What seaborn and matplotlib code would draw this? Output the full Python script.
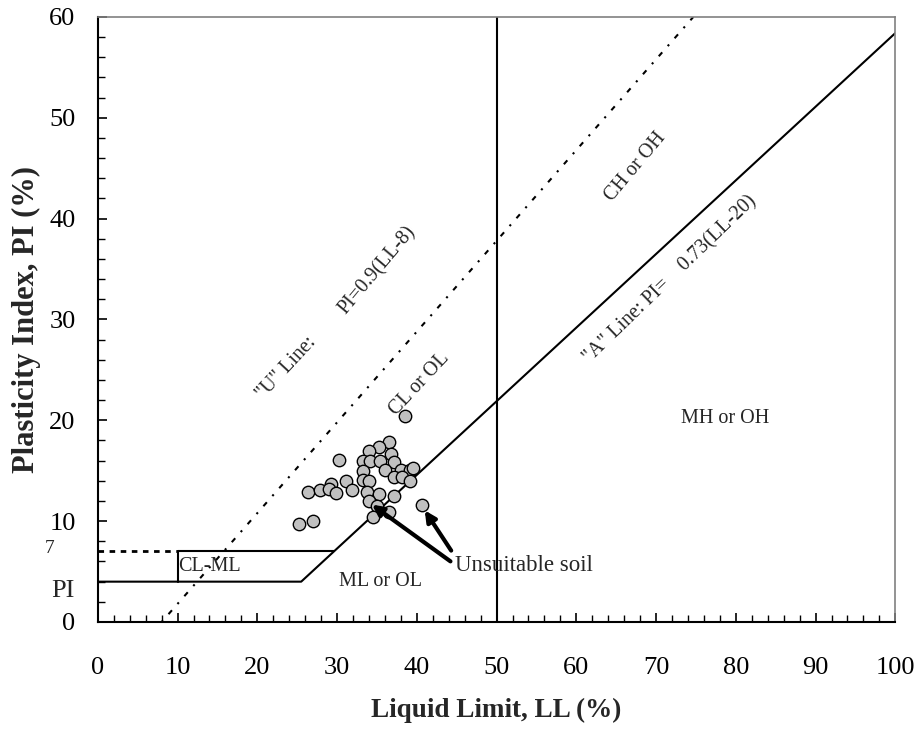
import numpy as np
import pandas as pd
import matplotlib
matplotlib.use("Agg")
import matplotlib.pyplot as plt
from matplotlib.ticker import MultipleLocator
import seaborn as sns

# Soil samples (liquid limit, plasticity index)
liquid_limit = [38.5, 36.5, 35.2, 34.0, 36.8, 30.2, 33.2, 34.1, 35.4, 37.1,
                36.0, 33.2, 38.0, 39.1, 39.5, 37.1, 38.1, 39.1, 33.2, 34.0,
                29.3, 31.1, 26.3, 27.9, 29.0, 29.9, 31.9, 33.8, 35.2, 37.2,
                34.0, 35.0, 40.6, 36.5, 34.5, 25.2, 27.0]
plasticity_index = [20.4, 17.8, 17.4, 17.0, 16.7, 16.1, 16.0, 16.0, 16.0, 15.9,
                    15.1, 14.95, 15.1, 15.1, 15.3, 14.4, 14.35, 14.0, 14.1, 14.0,
                    13.7, 14.0, 12.9, 13.1, 13.2, 12.8, 13.1, 12.9, 12.7, 12.5,
                    12.0, 11.5, 11.6, 10.9, 10.4, 9.7, 10.0]

# Classification lines
u_line_ll = [8, 74.67]
u_line_pi = [0, 60]
a_line_ll = [0, 25.5, 100]
a_line_pi = [4, 4, 58.4]
clml_ll = [10, 10, 29.6]
clml_pi = [4, 7, 7]
pi7_ll = [0, 10]
pi7_pi = [7, 7]
ll50_ll = [50, 50]
ll50_pi = [0, 60]

# Unsuitable soil arrows: (tail LL, tail PI) -> (head LL, head PI)
arrow_tails = [(44.5, 5.85), (44.5, 6.85)]
arrow_heads = [(34.1, 11.8), (40.8, 11.3)]

df = pd.DataFrame({"LL": liquid_limit, "PI": plasticity_index})

sns.set_style("ticks")
plt.rcParams["font.family"] = ["Liberation Serif", "DejaVu Serif"]

fig = plt.figure(figsize=(9.23, 7.34), dpi=100)
ax = fig.add_axes([0.106, 0.1526, 0.864, 0.8243])

ax.plot(ll50_ll, ll50_pi, color="black", lw=1.5)
ax.plot(a_line_ll, a_line_pi, color="black", lw=1.5)
ax.plot(clml_ll, clml_pi, color="black", lw=1.5)
ax.plot(pi7_ll, pi7_pi, color="black", lw=2, linestyle=(0, (2, 2)))
ax.plot(u_line_ll, u_line_pi, color="black", lw=1.5, linestyle=(0, (1, 4, 2.5, 4)))

sns.scatterplot(data=df, x="LL", y="PI", ax=ax, s=80, color="#c0c0c0",
                edgecolor="black", linewidth=1, zorder=5)

for (tx, ty), (hx, hy) in zip(arrow_tails, arrow_heads):
    ax.annotate("", xy=(hx, hy), xytext=(tx, ty),
                arrowprops=dict(arrowstyle="-|>", color="black", lw=3,
                                mutation_scale=16), zorder=6)

fs = 14.5
ax.text(44.8, 5.65, "Unsuitable soil", fontsize=16.5, ha="left", va="center")
ax.text(10.1, 5.5, "CL-ML", fontsize=fs, ha="left", va="center")
ax.text(35.4, 4.0, "ML or OL", fontsize=fs, ha="center", va="center")
ax.text(78.7, 20.2, "MH or OH", fontsize=fs, ha="center", va="center")
ax.text(23.7, 25.2, '"U" Line:', fontsize=fs, rotation=47, ha="center", va="center")
ax.text(35.1, 34.9, "PI=0.9(LL-8)", fontsize=fs, rotation=50, ha="center", va="center")
ax.text(40.4, 23.6, "CL or OL", fontsize=fs, rotation=47, ha="center", va="center")
ax.text(67.4, 45.1, "CH or OH", fontsize=fs, rotation=50, ha="center", va="center")
ax.text(71.8, 34.0, '"A" Line: PI=    0.73(LL-20)', fontsize=fs, rotation=44,
        ha="center", va="center")

# extra labels on the left of the y axis
ax.text(-6.1, 7.3, "7", fontsize=14, ha="center", va="center", clip_on=False)
ax.text(-2.9, 3.1, "PI", fontsize=19, ha="right", va="center", clip_on=False)

ax.set_xlim(0, 100)
ax.set_ylim(0, 60)
ax.xaxis.set_major_locator(MultipleLocator(10))
ax.xaxis.set_minor_locator(MultipleLocator(2))
ax.yaxis.set_major_locator(MultipleLocator(10))
ax.yaxis.set_minor_locator(MultipleLocator(2))
ax.tick_params(which="both", direction="in", colors="black", labelsize=19)
ax.tick_params(which="major", length=6.5, width=1.2)
ax.tick_params(which="minor", length=5, width=1)
ax.tick_params(axis="x", which="major", pad=25)
ax.tick_params(axis="y", which="major", pad=16)

ax.set_xlabel("Liquid Limit, LL (%)", fontsize=19.5, fontweight="bold", labelpad=14)
ax.set_ylabel("Plasticity Index, PI (%)", fontsize=22, fontweight="bold", labelpad=6)

for side in ["left", "bottom"]:
    ax.spines[side].set_color("black")
    ax.spines[side].set_linewidth(1.5)
for side in ["top", "right"]:
    ax.spines[side].set_visible(True)
    ax.spines[side].set_color("#808080")
    ax.spines[side].set_linewidth(1.2)

fig.savefig("out.png", dpi=100)
plt.close(fig)
